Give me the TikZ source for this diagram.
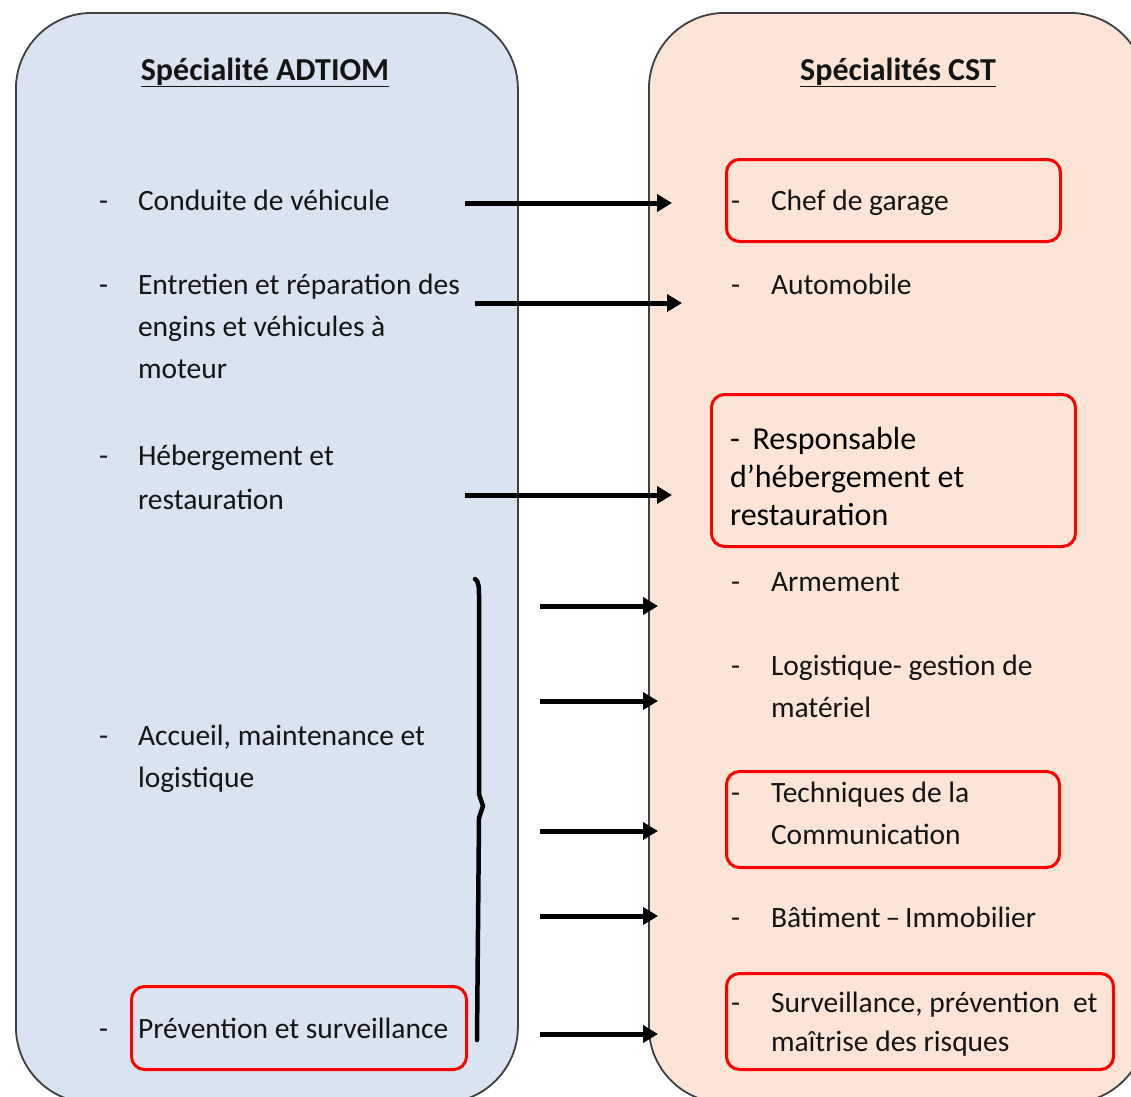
\documentclass[tikz,border=0pt]{standalone}
\usepackage{fontspec}
\setmainfont{Carlito}
\usetikzlibrary{arrows.meta,calc}

\definecolor{adtiomblue}{HTML}{DAE3F1}
\definecolor{cstpeach}{HTML}{FCE5D7}
\definecolor{panelgray}{HTML}{3F3F3F}
\definecolor{markred}{HTML}{FF0000}

\tikzset{
  panel/.style={draw=panelgray, line width=1.8pt, rounded corners=76pt, anchor=north west, inner sep=0pt},
  redbox/.style={draw=markred, line width=3pt, rounded corners=13pt, anchor=north west, inner sep=0pt},
  item/.style={anchor=base west, inner sep=0pt, outer sep=0pt, align=left, text=black!92, font=\fontsize{29.5}{42}\selectfont},
  title/.style={anchor=base, inner sep=0pt, text=black!92, font=\fontsize{32}{38}\selectfont\bfseries},
  link/.style={line width=5pt, -{Triangle[length=15pt,width=17pt]}},
}

\begin{document}
\begin{tikzpicture}[x=1pt,y=-1pt]
    \useasboundingbox (0,0) rectangle (1131,1096);
    \clip (0,0) rectangle (1131,1096);
    \fill[white] (0,0) rectangle (1131,1096);

    % panels
    \node[panel, fill=adtiomblue, minimum width=502pt, minimum height=1090pt] (adtiom) at (15,12) {};
    \node[panel, fill=cstpeach, minimum width=497pt, minimum height=1090pt] (cst) at (648,12) {};

    \node[title] (adtiom_title) at (265,80) {\underline{Spécialité ADTIOM}};
    \node[title] (cst_title) at (898,80) {\underline{Spécialités CST}};

    % red marks
    \node[redbox, minimum width=334pt, minimum height=82pt] (garage_box) at (725,158) {};
    \node[redbox, minimum width=364pt, minimum height=152pt] (resp_box) at (710,393) {};
    \node[redbox, minimum width=333pt, minimum height=96pt] (tech_box) at (725,770) {};
    \node[redbox, minimum width=387pt, minimum height=96pt] (surv_box) at (725,972) {};
    \node[redbox, minimum width=335pt, minimum height=83pt] (prev_box) at (130,985) {};

    % ADTIOM items (base = last line)
    \foreach \y/\name in {210/conduite, 294/entretien, 465/hebergement, 745/accueil, 1038/prevention}
      \node[item] (dash_\name) at (99,\y) {-};
    \node[item] (conduite) at (138,210) {Conduite de véhicule};
    \node[item] (entretien) at (138,378) {Entretien et réparation des\\engins et véhicules à\\moteur};
    \node[item, font=\fontsize{29.5}{44}\selectfont] (hebergement) at (138,509) {Hébergement et\\restauration};
    \node[item] (accueil) at (138,787) {Accueil, maintenance et\\logistique};
    \node[item] (prevention) at (138,1038) {Prévention et surveillance};

    % CST items
    \foreach \y/\name in {210/garage, 294/auto, 591/armement, 675/logistique, 802/techniques, 927/batiment, 1012/surveillance}
      \node[item] (dash_\name) at (731,\y) {-};
    \node[item] (garage) at (771,210) {Chef de garage};
    \node[item] (auto) at (771,294) {Automobile};
    \node[item, text=black, font=\fontsize{32}{38}\selectfont] (resp) at (730,525)
    {-\hspace{0.4em}Responsable\\d’hébergement et\\restauration};
    \node[item] (armement) at (771,591) {Armement};
    \node[item] (logistique) at (771,717) {Logistique- gestion de\\matériel};
    \node[item] (techniques) at (771,844) {Techniques de la\\Communication};
    \node[item] (batiment) at (771,927) {Bâtiment\,–\,Immobilier};
    \node[item, font=\fontsize{29.5}{39}\selectfont] (surveillance) at (771,1051) {Surveillance, prévention~ et\\maîtrise des risques};

    % brace
    \draw[line width=4.5pt, line cap=round, line join=round]
      (475,579) .. controls (479,581) and (479,588) .. (479,598) -- (479,794) -- (483,806)
      -- (479,818) -- (477,1040);

    % arrows
    \foreach \y/\xs/\xe [count=\i] in {203/465/672, 303/475/682, 495/465/672, 606/540/658,
      701/540/658, 831/540/658, 916/540/658, 1034/540/658}
    {
      \coordinate (from\i) at (\xs,\y);
      \coordinate (to\i) at (\xe,\y);
      \draw[link] (from\i) -- (to\i);
    }
\end{tikzpicture}
\end{document}
